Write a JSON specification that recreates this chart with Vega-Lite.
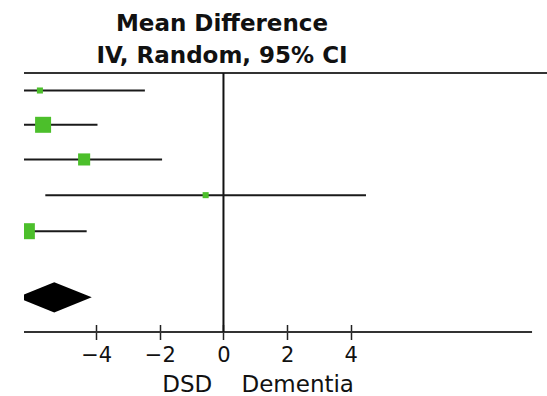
{
  "$schema": "https://vega.github.io/schema/vega-lite/v6.json",
  "width": 523,
  "height": 259,
  "autosize": "none",
  "padding": {"left": 24, "top": 73, "right": 0, "bottom": 64},
  "background": "white",
  "title": {
    "text": ["Mean Difference", "IV, Random, 95% CI"],
    "font": "DejaVu Sans",
    "fontSize": 23,
    "fontWeight": "bold",
    "color": "#111111",
    "anchor": "middle",
    "frame": "group",
    "dx": -63.5,
    "lineHeight": 31.6,
    "offset": 4
  },
  "config": {
    "view": {"stroke": null},
    "axisX": {
      "domain": false,
      "grid": false,
      "offset": -7.5,
      "tickSize": 15,
      "tickColor": "#222222",
      "tickWidth": 1.5,
      "labelFont": "DejaVu Sans",
      "labelFontSize": 21,
      "labelColor": "#111111",
      "labelPadding": 5,
      "titleFont": "DejaVu Sans",
      "titleFontSize": 23,
      "titleFontWeight": "normal",
      "titleColor": "#111111",
      "titleAlign": "left",
      "titleBaseline": "alphabetic",
      "titleX": 137.7,
      "titleY": 67.3
    }
  },
  "datasets": {
    "studies": [
      {"study": 1, "md": -5.77, "lo": -9.07, "hi": -2.47, "weight": 4, "row": 0.5},
      {"study": 2, "md": -5.67, "lo": -7.38, "hi": -3.96, "weight": 28, "row": 1.48},
      {"study": 3, "md": -4.38, "lo": -6.83, "hi": -1.93, "weight": 16, "row": 2.47},
      {"study": 4, "md": -0.56, "lo": -5.6, "hi": 4.48, "weight": 4, "row": 3.49},
      {"study": 5, "md": -6.18, "lo": -8.06, "hi": -4.3, "weight": 28, "row": 4.52}
    ],
    "pooled": [
      {"x": -6.5, "ylo": 6.41, "yhi": 6.41},
      {"x": -5.32, "ylo": 5.98, "yhi": 6.84},
      {"x": -4.14, "ylo": 6.41, "yhi": 6.41}
    ],
    "topline": [{"y": 0}],
    "zeroline": [{"x": 0, "y": 0, "y2": 7.4}],
    "baseline": [{"x": -6.27, "x2": 9.7, "y": 7.4}]
  },
  "layer": [
    {
      "data": {"name": "topline"},
      "mark": {"type": "rule", "color": "#333333", "strokeWidth": 2},
      "encoding": {
        "y": {"field": "y", "type": "quantitative", "scale": {"domain": [0, 7.4], "reverse": true}, "axis": null}
      }
    },
    {
      "data": {"name": "baseline"},
      "mark": {"type": "rule", "color": "#333333", "strokeWidth": 2},
      "encoding": {
        "x": {"field": "x", "type": "quantitative", "scale": {"domain": [-6.27, 10.17], "nice": false, "zero": false}, "axis": {"values": [-4, -2, 0, 2, 4]}, "title": "DSD\u00a0\u00a0\u00a0\u00a0Dementia"},
        "x2": {"field": "x2"},
        "y": {"field": "y", "type": "quantitative", "scale": {"domain": [0, 7.4], "reverse": true}, "axis": null}
      }
    },
    {
      "data": {"name": "zeroline"},
      "mark": {"type": "rule", "color": "#111111", "strokeWidth": 2},
      "encoding": {
        "x": {"field": "x", "type": "quantitative", "scale": {"domain": [-6.27, 10.17], "nice": false, "zero": false}, "axis": {"values": [-4, -2, 0, 2, 4]}, "title": "DSD\u00a0\u00a0\u00a0\u00a0Dementia"},
        "y": {"field": "y", "type": "quantitative", "scale": {"domain": [0, 7.4], "reverse": true}, "axis": null},
        "y2": {"field": "y2"}
      }
    },
    {
      "data": {"name": "studies"},
      "mark": {"type": "rule", "color": "#1a1a1a", "strokeWidth": 2, "clip": true},
      "encoding": {
        "x": {"field": "lo", "type": "quantitative", "scale": {"domain": [-6.27, 10.17], "nice": false, "zero": false}, "axis": {"values": [-4, -2, 0, 2, 4]}, "title": "DSD\u00a0\u00a0\u00a0\u00a0Dementia"},
        "x2": {"field": "hi"},
        "y": {"field": "row", "type": "quantitative", "scale": {"domain": [0, 7.4], "reverse": true}, "axis": null}
      }
    },
    {
      "data": {"name": "studies"},
      "mark": {"type": "point", "shape": "square", "filled": true, "opacity": 1, "color": "#4cbf2b", "clip": true},
      "encoding": {
        "x": {"field": "md", "type": "quantitative", "scale": {"domain": [-6.27, 10.17], "nice": false, "zero": false}, "axis": {"values": [-4, -2, 0, 2, 4]}, "title": "DSD\u00a0\u00a0\u00a0\u00a0Dementia"},
        "y": {"field": "row", "type": "quantitative", "scale": {"domain": [0, 7.4], "reverse": true}, "axis": null},
        "size": {"field": "weight", "type": "quantitative", "scale": {"type": "linear", "domain": [0, 28], "range": [0, 256]}, "legend": null}
      }
    },
    {
      "data": {"name": "pooled"},
      "mark": {"type": "area", "color": "#000000", "orient": "vertical", "clip": true, "opacity": 1},
      "encoding": {
        "x": {"field": "x", "type": "quantitative", "scale": {"domain": [-6.27, 10.17], "nice": false, "zero": false}, "axis": {"values": [-4, -2, 0, 2, 4]}, "title": "DSD\u00a0\u00a0\u00a0\u00a0Dementia"},
        "y": {"field": "ylo", "type": "quantitative", "scale": {"domain": [0, 7.4], "reverse": true}, "axis": null},
        "y2": {"field": "yhi"}
      }
    }
  ]
}
